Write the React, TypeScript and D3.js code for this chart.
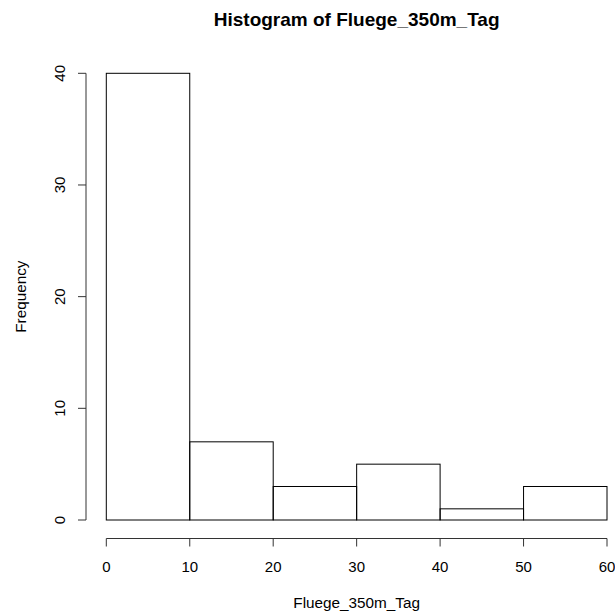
import { useMemo } from 'react';
import * as d3 from 'd3';

const binStarts = [0, 10, 20, 30, 40, 50];
const binWidth = 10;
const counts = [40, 7, 3, 5, 1, 3];
const xTicks = [0, 10, 20, 30, 40, 50, 60];
const yTicks = [0, 10, 20, 30, 40];

const W = 615;
const H = 613;

const App = () => {
	const font = 'Liberation Sans, Arial, sans-serif';

	// scales: plot area in R's default layout
	const x = useMemo(() => d3.scaleLinear().domain([0, 60]).range([106.3, 607]), []);
	const y = useMemo(() => d3.scaleLinear().domain([0, 40]).range([520, 73.3]), []);

	const axisY = 538.5;
	const axisX = 86;

	return (
		<div style={{ position: 'absolute', left: 0, top: 0 }}>
			<svg width={W} height={H} style={{ display: 'block', background: '#fff' }}>
				{/* title */}
				<text
					x={(x(0) + x(60)) / 2}
					y={26}
					textAnchor="middle"
					fontFamily={font}
					fontWeight="bold"
					fontSize={19}
					fill="#000"
				>
					Histogram of Fluege_350m_Tag
				</text>

				{/* bars */}
				{binStarts.map((s, i) => (
					<rect
						key={s}
						x={x(s)}
						y={y(counts[i])}
						width={x(s + binWidth) - x(s)}
						height={y(0) - y(counts[i])}
						fill="none"
						stroke="#000"
						strokeWidth={1}
					/>
				))}

				{/* x axis */}
				<g stroke="#333" strokeWidth={1}>
					<line x1={x(0)} x2={x(60)} y1={axisY} y2={axisY} />
					{xTicks.map((t) => (
						<line key={t} x1={x(t)} x2={x(t)} y1={axisY} y2={axisY + 8} />
					))}
				</g>
				{xTicks.map((t) => (
					<text
						key={t}
						x={x(t)}
						y={572}
						textAnchor="middle"
						fontFamily={font}
						fontSize={15}
						fill="#000"
					>
						{t}
					</text>
				))}

				{/* y axis */}
				<g stroke="#333" strokeWidth={1}>
					<line x1={axisX} x2={axisX} y1={y(0)} y2={y(40)} />
					{yTicks.map((t) => (
						<line key={t} x1={axisX - 8} x2={axisX} y1={y(t)} y2={y(t)} />
					))}
				</g>
				{yTicks.map((t) => (
					<text
						key={t}
						transform={`translate(64.5, ${y(t)}) rotate(-90)`}
						textAnchor="middle"
						fontFamily={font}
						fontSize={15}
						fill="#000"
					>
						{t}
					</text>
				))}

				{/* axis labels */}
				<text
					x={(x(0) + x(60)) / 2}
					y={608}
					textAnchor="middle"
					fontFamily={font}
					fontSize={15.3}
					fill="#000"
				>
					Fluege_350m_Tag
				</text>
				<text
					transform={`translate(26, ${(y(0) + y(40)) / 2}) rotate(-90)`}
					textAnchor="middle"
					fontFamily={font}
					fontSize={15.3}
					fill="#000"
				>
					Frequency
				</text>
			</svg>
		</div>
	);
};

export default App;
